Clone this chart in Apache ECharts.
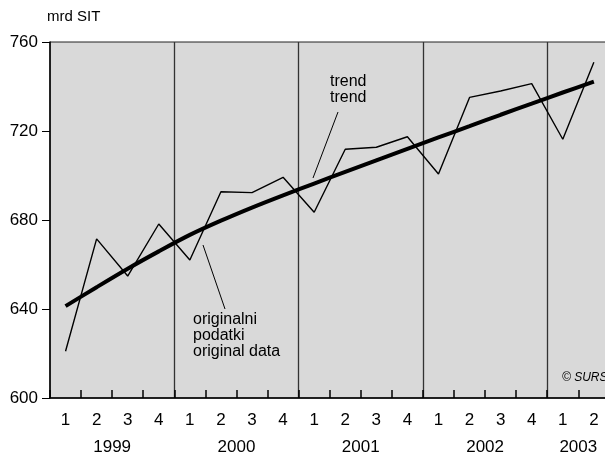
<!DOCTYPE html>
<html>
<head>
<meta charset="utf-8">
<script src="https://cdn.jsdelivr.net/npm/echarts@6/dist/echarts.min.js"></script>
<style>html,body{margin:0;padding:0;background:#fff}#c{width:605px;height:457px}</style>
</head>
<body>
<div id="c"></div>
<script>
var years = ['1999', '2000', '2001', '2002', '2003'];
var quarters = ['1','2','3','4','1','2','3','4','1','2','3','4','1','2','3','4','1','2'];
var original = [621, 671.5, 654.8, 678.2, 662, 692.7, 692.3, 699.2, 683.5, 711.8, 712.7, 717.4, 700.7, 735.1, 738, 741.3, 716.3, 750.9];
var trend = [641.3, 649.8, 658.1, 665.9, 673.3, 679.7, 685.6, 691.1, 696.4, 701.6, 706.8, 712.0, 717.1, 722.2, 727.3, 732.3, 737.3, 742.2];
var yTicks = [600, 640, 680, 720, 760];

// half-quarter positions (0..36) for year labels and year separators
var halfPos = [];
for (var i = 0; i <= quarters.length * 2; i++) halfPos.push(String(i));
var yearCenters = {4: years[0], 12: years[1], 20: years[2], 28: years[3], 34: years[4]};

var FONT = 'Liberation Sans';
var chart = echarts.init(document.getElementById('c'), null, {renderer: 'canvas'});
chart.setOption({
  animation: false,
  textStyle: {fontFamily: FONT},
  title: {text: 'mrd SIT', left: 47, top: 9, padding: 0, textStyle: {fontFamily: FONT, fontSize: 15, fontWeight: 'normal', color: '#000'}},
  grid: {left: 50, top: 42, width: 559.4, height: 356, show: true, backgroundColor: '#d9d9d9', borderColor: '#222', borderWidth: 1,
    containLabel: false, outerBoundsMode: 'none'},
  xAxis: [{
    type: 'category', data: quarters, boundaryGap: true, position: 'bottom',
    axisLine: {show: true, lineStyle: {color: '#000', width: 1.5}},
    axisTick: {show: true, inside: true, length: 8, lineStyle: {color: '#000', width: 1.5}},
    axisLabel: {margin: 14, fontSize: 17, color: '#000', fontFamily: FONT, interval: 0},
    splitLine: {show: false}
  }, {
    type: 'category', data: halfPos, boundaryGap: false, position: 'bottom',
    axisLine: {show: false}, axisTick: {show: false},
    axisLabel: {show: true, interval: 0, margin: 41, fontSize: 17, color: '#000', fontFamily: FONT,
      formatter: function (v, idx) { return yearCenters[idx] || ''; }},
    splitLine: {show: true, interval: function (idx) { return idx > 0 && idx < 36 && idx % 8 === 0; },
      lineStyle: {color: '#333', width: 1.3}}
  }],
  yAxis: {
    type: 'value', min: yTicks[0], max: yTicks[yTicks.length - 1], interval: 40,
    axisLine: {show: true, lineStyle: {color: '#000', width: 1.5}},
    axisTick: {show: true, inside: false, length: 8, lineStyle: {color: '#000', width: 1}},
    axisLabel: {margin: 12, fontSize: 17, color: '#000', fontFamily: FONT},
    splitLine: {show: false}
  },
  series: [{
    name: 'original', type: 'line', data: original, xAxisIndex: 0, symbol: 'none',
    lineStyle: {color: '#000', width: 1.4}, z: 3
  }, {
    name: 'trend', type: 'line', data: trend, xAxisIndex: 0, symbol: 'none', smooth: 0.3,
    lineStyle: {color: '#000', width: 4}, z: 4
  }],
  graphic: [
    {type: 'text', left: 330, top: 74, style: {text: 'trend\ntrend', fontSize: 16, fontFamily: FONT, fill: '#000', lineHeight: 16}},
    {type: 'line', shape: {x1: 338, y1: 112, x2: 313, y2: 178}, style: {stroke: '#000', lineWidth: 1}},
    {type: 'text', left: 193, top: 312, style: {text: 'originalni\npodatki\noriginal data', fontSize: 16, fontFamily: FONT, fill: '#000', lineHeight: 16}},
    {type: 'line', shape: {x1: 203, y1: 245, x2: 225, y2: 309}, style: {stroke: '#000', lineWidth: 1}},
    {type: 'text', left: 562, top: 372, style: {text: '© SURS', fontSize: 12, fontStyle: 'italic', fontFamily: FONT, fill: '#000'}}
  ]
});
</script>
</body>
</html>
